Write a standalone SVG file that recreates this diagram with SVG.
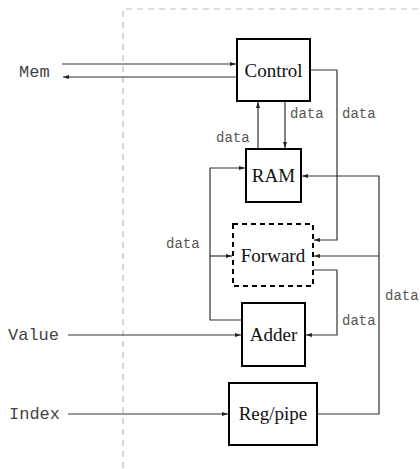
<svg xmlns="http://www.w3.org/2000/svg" width="420" height="469" viewBox="0 0 420 469">
<defs>
<marker id="ah" viewBox="0 0 6 4" refX="6" refY="2" markerWidth="6" markerHeight="4" markerUnits="userSpaceOnUse" orient="auto">
<path d="M0,0 L6,2 L0,4 Z" fill="#222"/>
</marker>
</defs>
<style>
.box{fill:#fff;stroke:#000;stroke-width:2}
.dbox{fill:#fff;stroke:#000;stroke-width:2;stroke-dasharray:5,4}
.lbl{font-family:"Liberation Serif",serif;font-size:19px;fill:#111;text-anchor:middle}
.io{font-family:"Liberation Mono",monospace;font-size:17px;fill:#444}
.dt{font-family:"Liberation Mono",monospace;font-size:14px;fill:#555}
.w{fill:none;stroke:#333;stroke-width:1.2}
.a{marker-end:url(#ah)}
.bnd{fill:none;stroke:#bbb;stroke-width:1.2;stroke-dasharray:6,5}
</style>
<path class="bnd" d="M123,468 L123,9 L420,9"/>
<g id="connectors">
<line class="w a" x1="62" y1="64" x2="236" y2="64"/>
<line class="w a" x1="237" y1="77" x2="63" y2="77"/>
<polyline class="w a" points="310,70 337,70 337,240 314,240"/>
<line class="w a" x1="258" y1="149" x2="258" y2="102"/>
<line class="w a" x1="285" y1="101" x2="285" y2="148"/>
<polyline class="w a" points="242,320 210,320 210,168 245,168"/>
<line class="w a" x1="210" y1="256" x2="232" y2="256"/>
<polyline class="w a" points="317,414 379,414 379,176 302,176"/>
<line class="w a" x1="379" y1="256" x2="314" y2="256"/>
<polyline class="w a" points="313,270 337,270 337,335 306,335"/>
<line class="w a" x1="68" y1="335" x2="241" y2="335"/>
<line class="w a" x1="68" y1="414" x2="228" y2="414"/>
</g>
<g id="labels">
<text class="io" x="19" y="77">Mem</text>
<text class="io" x="8" y="340">Value</text>
<text class="io" x="9" y="419">Index</text>
<text class="dt" x="290" y="118">data</text>
<text class="dt" x="342" y="118">data</text>
<text class="dt" x="216" y="142">data</text>
<text class="dt" x="166" y="248">data</text>
<text class="dt" x="385" y="300">data</text>
<text class="dt" x="342" y="325">data</text>
</g>
<g id="control"><rect class="box" x="237" y="39" width="73" height="62"/><text class="lbl" x="273.5" y="77">Control</text></g>
<g id="ram"><rect class="box" x="246" y="149" width="55" height="53"/><text class="lbl" x="273.5" y="182">RAM</text></g>
<g id="forward"><rect class="dbox" x="233" y="224" width="80" height="62"/><text class="lbl" x="273" y="262">Forward</text></g>
<g id="adder"><rect class="box" x="242" y="303" width="63" height="63"/><text class="lbl" x="273.5" y="341">Adder</text></g>
<g id="regpipe"><rect class="box" x="229" y="383" width="88" height="62"/><text class="lbl" x="273" y="420">Reg/pipe</text></g>
</svg>
